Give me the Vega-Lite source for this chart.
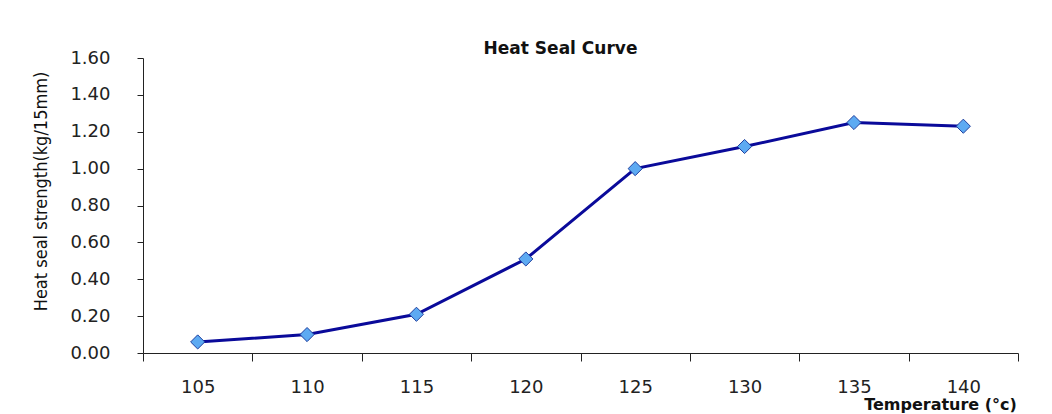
{
  "$schema": "https://vega.github.io/schema/vega-lite/v6.json",
  "width": 875,
  "height": 295,
  "autosize": {"type": "none"},
  "padding": {"left": 143, "top": 58, "right": 34, "bottom": 61},
  "background": "white",
  "config": {
    "view": {"stroke": null},
    "font": "DejaVu Sans"
  },
  "title": {
    "text": "Heat Seal Curve",
    "fontSize": 17,
    "fontWeight": "bold",
    "font": "DejaVu Sans",
    "color": "#111111",
    "offset": 4,
    "dx": -20,
    "dy": 13
  },
  "data": {
    "values": [
      {"temp": "105", "strength": 0.06},
      {"temp": "110", "strength": 0.10},
      {"temp": "115", "strength": 0.21},
      {"temp": "120", "strength": 0.51},
      {"temp": "125", "strength": 1.00},
      {"temp": "130", "strength": 1.12},
      {"temp": "135", "strength": 1.25},
      {"temp": "140", "strength": 1.23}
    ]
  },
  "encoding": {
    "x": {
      "field": "temp",
      "type": "ordinal",
      "scale": {"type": "band", "paddingInner": 0, "paddingOuter": 0},
      "axis": {
        "title": "Temperature (°c)",
        "titleFontSize": 16,
        "titleFontWeight": "bold",
        "titleColor": "#111111",
        "titleX": 797,
        "titleY": 43,
        "titleBaseline": "top",
        "titleAlign": "center",
        "labelAngle": 0,
        "labelFontSize": 18,
        "labelColor": "#222222",
        "labelPadding": 17,
        "tickBand": "extent",
        "tickSize": 8,
        "tickColor": "#222222",
        "domainColor": "#222222",
        "grid": false
      }
    },
    "y": {
      "field": "strength",
      "type": "quantitative",
      "scale": {"domain": [0, 1.6], "nice": false},
      "axis": {
        "title": "Heat seal strength(kg/15mm)",
        "titleFont": "DejaVu Sans Condensed",
        "titleFontSize": 18,
        "titleFontWeight": "normal",
        "titleColor": "#111111",
        "titleX": -93,
        "titleY": 133,
        "titleAngle": -90,
        "titleAlign": "center",
        "titleBaseline": "bottom",
        "values": [0, 0.2, 0.4, 0.6, 0.8, 1.0, 1.2, 1.4, 1.6],
        "format": ".2f",
        "labelFontSize": 18,
        "labelColor": "#222222",
        "labelPadding": 27,
        "tickSize": 6,
        "tickColor": "#222222",
        "domainColor": "#222222",
        "grid": false
      }
    }
  },
  "layer": [
    {"mark": {"type": "line", "color": "#0A0A9A", "strokeWidth": 3}},
    {"mark": {"type": "point", "shape": "diamond", "filled": true, "fill": "#5DAAF2", "stroke": "#1F3F9F", "strokeWidth": 1, "size": 200, "opacity": 1}}
  ]
}
